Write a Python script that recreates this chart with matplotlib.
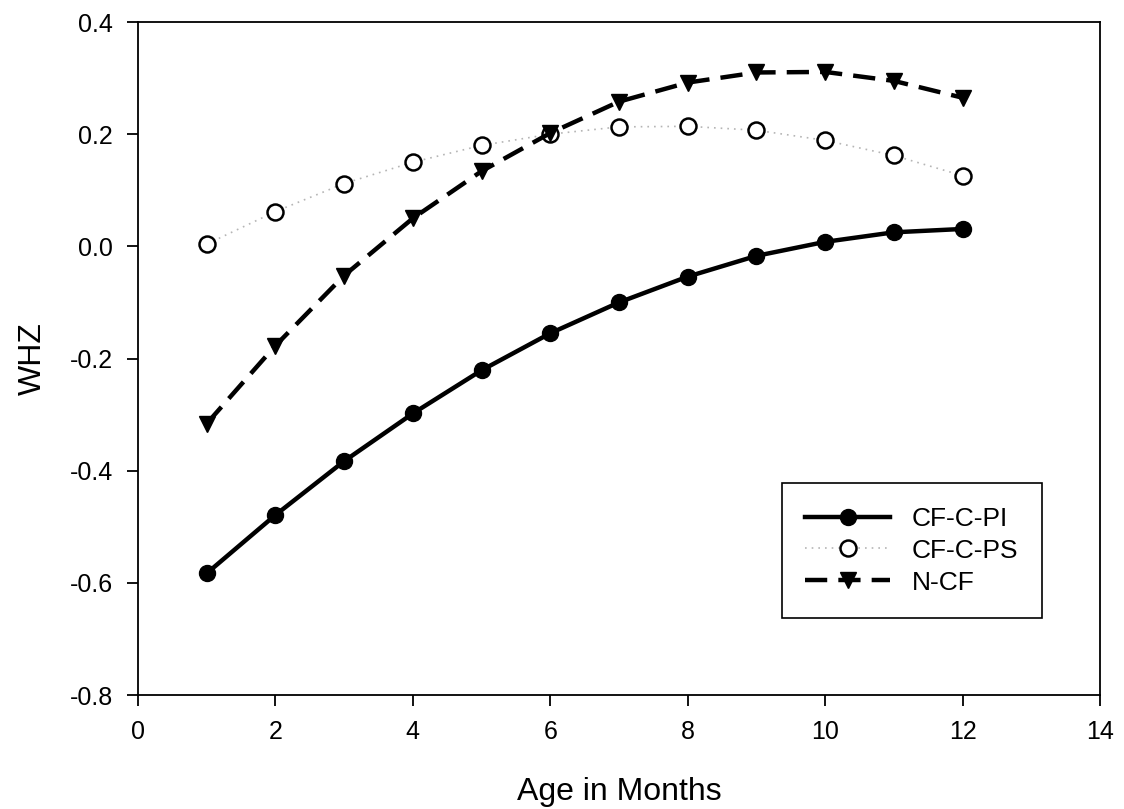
import numpy as np
import matplotlib
matplotlib.use("Agg")
import matplotlib.pyplot as plt

# ── DATA ──────────────────────────────────────────────────────────────────────

months = [1, 2, 3, 4, 5, 6, 7, 8, 9, 10, 11, 12]

cf_c_pi = [-0.583, -0.479, -0.383, -0.298, -0.221, -0.155,
           -0.100, -0.054, -0.017, 0.008, 0.025, 0.031]
cf_c_ps = [0.004, 0.062, 0.112, 0.150, 0.180, 0.200,
           0.213, 0.214, 0.207, 0.189, 0.162, 0.126]
n_cf    = [-0.316, -0.177, -0.052, 0.050, 0.134, 0.202,
           0.258, 0.292, 0.310, 0.311, 0.295, 0.265]

x_ticks = [0, 2, 4, 6, 8, 10, 12, 14]
y_ticks = [-0.8, -0.6, -0.4, -0.2, 0.0, 0.2, 0.4]

# ── PLOT ──────────────────────────────────────────────────────────────────────

plt.rcParams["font.family"] = ["Liberation Sans", "DejaVu Sans"]

fig = plt.figure(figsize=(11.24, 8.09), dpi=100)
ax = fig.add_axes([0.1228, 0.1409, 0.8558, 0.8319])

ax.plot(months, cf_c_pi, color="black", lw=3.2, ls="-",
        marker="o", ms=11.5, mfc="black", mec="black", label="CF-C-PI")
ax.plot(months, cf_c_ps, color="#b5b5b5", lw=1.2, ls=(0, (1, 3)),
        marker="o", ms=11.5, mfc="white", mec="black", mew=1.8, label="CF-C-PS")
ax.plot(months, n_cf, color="black", lw=3.2, ls=(0, (5, 2.5)),
        marker="v", ms=12, mfc="black", mec="black", label="N-CF")

ax.set_xlim(0, 14)
ax.set_ylim(-0.8, 0.4)
ax.set_xticks(x_ticks)
ax.set_yticks(y_ticks)
ax.set_yticklabels([f"{v:.1f}" for v in y_ticks])
ax.tick_params(direction="out", length=8, width=1.3, labelsize=18, pad=10)
for s in ax.spines.values():
    s.set_linewidth(1.3)

ax.set_xlabel("Age in Months", fontsize=23, labelpad=24)
ax.set_ylabel("WHZ", fontsize=23, labelpad=16)

leg = ax.legend(loc="upper left", bbox_to_anchor=(0.669, 0.315), fontsize=19,
                handlelength=3.2, borderpad=0.9, labelspacing=0.3,
                handletextpad=0.83, fancybox=False, framealpha=1,
                borderaxespad=0)
leg.get_frame().set_edgecolor("black")
leg.get_frame().set_linewidth(1.2)

plt.savefig("out.png", dpi=100)
